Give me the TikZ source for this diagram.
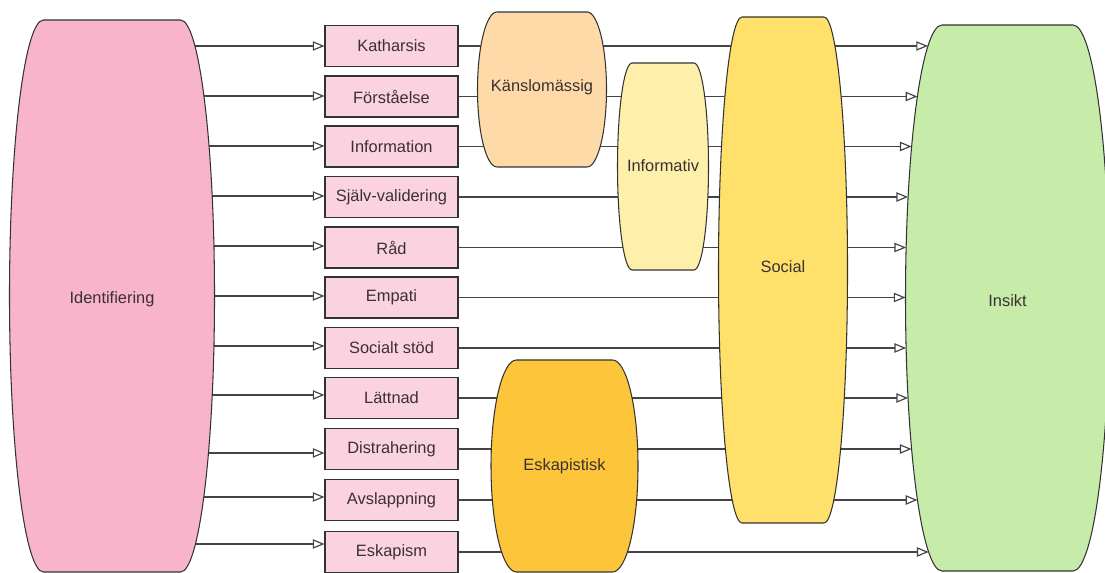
\documentclass[tikz,border=0pt]{standalone}
\usepackage{fontspec}
\setmainfont{Liberation Sans}
\usetikzlibrary{arrows.meta}
\definecolor{idfill}{HTML}{F8B4CB}
\definecolor{boxfill}{HTML}{FAD2E0}
\definecolor{kanfill}{HTML}{FDDAA8}
\definecolor{inffill}{HTML}{FEF0AA}
\definecolor{socfill}{HTML}{FEE06B}
\definecolor{eskfill}{HTML}{FDC63A}
\definecolor{insfill}{HTML}{C7ECAA}
\definecolor{edgec}{HTML}{333333}
\definecolor{linec}{HTML}{444444}
\definecolor{txtc}{HTML}{3A3034}
\pgfdeclarelayer{bg}
\pgfsetlayers{bg,main}
\tikzset{
  shp/.style={draw=edgec, line width=0.9pt},
  lbl/.style={font=\fontsize{14}{16}\selectfont, text=txtc, inner sep=0pt},
  boxst/.style={draw=edgec, line width=0.9pt, fill=boxfill, minimum width=3.99cm, minimum height=1.23cm, inner sep=0pt, font=\fontsize{14}{16}\selectfont, text=txtc},
  conn/.style={draw=linec, line width=1.2pt, -{Triangle[length=10pt,width=8pt,fill=white,line width=1pt]}},
}
% name, cx, cy, h, t, m, fill, label, label-y
\newcommand\barrel[9]{%
  \pgfmathsetmacro\bL{#2-#5}\pgfmathsetmacro\bR{#2+#5}%
  \pgfmathsetmacro\bT{573-#3+#4}\pgfmathsetmacro\bB{573-#3-#4}%
  \pgfmathsetmacro\bRx{#6-#5}%
  \draw[shp,fill=#7] (\bL,\bT) -- (\bR,\bT) arc[start angle=90,end angle=-90,x radius=\bRx,y radius=#4] -- (\bL,\bB) arc[start angle=270,end angle=90,x radius=\bRx,y radius=#4] -- cycle;
  \node[lbl] (#1) at (#2,{573-#9}) {#8};}
% name, cx, cy, h, t, m, side, y
\newcommand\bpt[8]{%
  \pgfmathsetmacro\bX{#2+(#7)*(#5+(#6-#5)*sqrt(max(0,1-((#8-#3)/#4)^2)))}%
  \coordinate (#1) at (\bX,{573-#8});}
\begin{document}
\begin{tikzpicture}[x=0.03cm,y=0.03cm]
\useasboundingbox (0,0) rectangle (1105,573);
% shapes
\barrel{ins}{1007.5}{298}{273}{65.5}{102}{insfill}{Insikt}{301}
\barrel{id}{112}{296}{276}{68.5}{102.5}{idfill}{Identifiering}{299}
\barrel{kan}{542}{89.5}{77.5}{45}{64.5}{kanfill}{Känslomässig}{87}
\barrel{inf}{663}{166.5}{103.5}{31}{45.5}{inffill}{Informativ}{166}
\barrel{soc}{783}{270}{253}{41}{64.5}{socfill}{Social}{267}
\barrel{esk}{564.5}{466}{106}{48}{73.5}{eskfill}{Eskapistisk}{466}
% boxes
\foreach \lab/\yy [count=\i] in {Katharsis/46, Förståelse/96.5, Information/146.5, Själv-validering/197, Råd/247.5, Empati/297.5, Socialt stöd/348, Lättnad/398, Distrahering/449, Avslappning/500, Eskapism/552}{
  \node[boxst] (b\i) at (391.5,{573-\yy}) {\lab};
  \bpt{nL\i}{1007.5}{298}{273}{65.5}{102}{-1}{\yy}
}
\foreach \yy [count=\i] in {46,96,146,196,246,296,346,395,453,497,544}{
  \bpt{iR\i}{112}{296}{276}{68.5}{102.5}{1}{\yy}
}
\begin{pgfonlayer}{bg}
\foreach \i in {1,...,11}{
  \draw[conn] (b\i.east) -- (nL\i);
  \draw[conn] (iR\i) -- (iR\i -| b\i.west);
}
\end{pgfonlayer}
\end{tikzpicture}
\end{document}
